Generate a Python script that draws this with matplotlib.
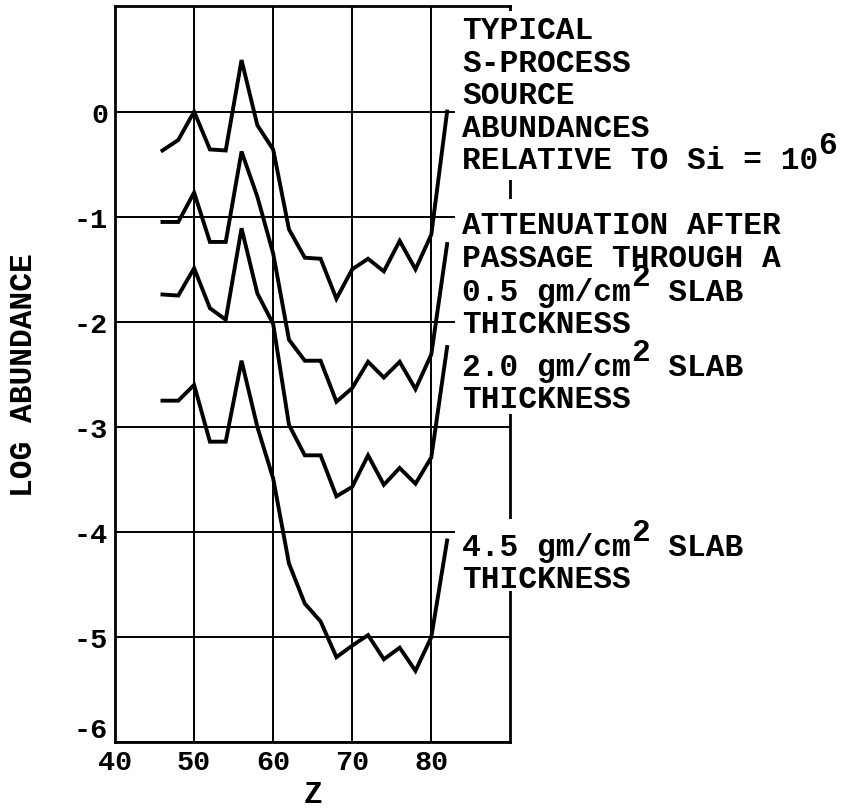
import numpy as np
import matplotlib
matplotlib.use('Agg')
import matplotlib.pyplot as plt
import matplotlib.transforms as mtransforms
from matplotlib.patches import Rectangle

# atomic number Z and log abundance (Si = 10^6) for each curve
z = [46, 48, 50, 52, 54, 56, 58, 60, 62, 64, 66, 68, 70, 72, 74, 76, 78, 80, 82]
source = [-0.37, -0.27, 0.0, -0.36, -0.37, 0.49, -0.13, -0.36, -1.12, -1.39,
          -1.40, -1.78, -1.50, -1.40, -1.52, -1.23, -1.50, -1.17, 0.0]
slab_05 = [-1.05, -1.05, -0.77, -1.24, -1.24, -0.38, -0.81, -1.35, -2.17, -2.37,
           -2.37, -2.76, -2.63, -2.38, -2.53, -2.38, -2.64, -2.31, -1.26]
slab_20 = [-1.74, -1.75, -1.49, -1.87, -1.98, -1.11, -1.73, -2.02, -2.98, -3.27,
           -3.27, -3.66, -3.57, -3.27, -3.55, -3.39, -3.54, -3.29, -2.24]
slab_45 = [-2.75, -2.75, -2.60, -3.14, -3.14, -2.37, -3.00, -3.49, -4.30, -4.68,
           -4.85, -5.19, -5.08, -4.98, -5.21, -5.10, -5.32, -5.00, -4.08]

xticks = [40, 50, 60, 70, 80]
yticks = [-6, -5, -4, -3, -2, -1, 0]
ytick_labels = ['-6', '-5', '-4', '-3', '-2', '-1', '0']

# curve labels, one list of lines per curve; superscripts kept apart
# as (line, char index, text) so they can be raised like a typewriter would
labels = [
    ['TYPICAL', 'S-PROCESS', 'SOURCE', 'ABUNDANCES', 'RELATIVE TO Si = 10'],
    ['ATTENUATION AFTER', 'PASSAGE THROUGH A', '0.5 gm/cm  SLAB', 'THICKNESS'],
    ['2.0 gm/cm  SLAB', 'THICKNESS'],
    ['4.5 gm/cm  SLAB', 'THICKNESS'],
]
supers = [[(4, 19, '6')], [(2, 9, '2')], [(0, 9, '2')], [(0, 9, '2')]]


if __name__ == "__main__":

    font = 'Liberation Mono'
    fs = 22.5
    plt.rcParams['font.family'] = [font, 'DejaVu Sans Mono']
    plt.rcParams['font.weight'] = 'bold'

    fig = plt.figure(figsize=(8.44, 8.12), dpi=100)
    ax = fig.add_axes([0.1363, 0.0846, 0.4684, 0.9062])

    for series in (source, slab_05, slab_20, slab_45):
        ax.plot(z, series, color='black', lw=2.8, solid_joinstyle='miter', zorder=3)

    ax.set_xlim(40, 90)
    ax.set_ylim(-6, 1)
    ax.set_xticks(xticks)
    ax.set_yticks(yticks)
    ax.set_yticklabels(ytick_labels)
    ax.tick_params(length=0, pad=5, labelsize=20.5)
    ax.grid(True, color='black', lw=1.4, zorder=1)
    ax.set_axisbelow(True)
    for sp in ax.spines.values():
        sp.set_linewidth(2.0)
        sp.set_zorder(2.5)

    # the -6 label sits a bit above the bottom line
    for lab in ax.get_yticklabels():
        if lab.get_text() == '-6':
            off = mtransforms.ScaledTranslation(0, 0.15, fig.dpi_scale_trans)
            lab.set_transform(lab.get_transform() + off)

    ax.set_xlabel('Z', fontsize=fs, fontweight='bold', labelpad=3)
    ax.set_ylabel('LOG ABUNDANCE', fontsize=fs, fontweight='bold', labelpad=25)

    # white panels behind the labels (grid and frame stop at the text)
    def frac(ypix):
        return (743.3 - ypix) / 735.8
    x0 = (455 - 113.3) / 397.1
    for top, bot in [(12, 181), (200, 415), (520, 592)]:
        ax.add_patch(Rectangle((x0, frac(bot)), 1.0, frac(top) - frac(bot),
                               transform=ax.transAxes, clip_on=False,
                               facecolor='white', edgecolor='none', zorder=4))

    # label text, line centres in pixels from the top
    rows = [[28, 61, 93, 126, 158], [223, 256, 290, 322], [365, 397], [545, 577]]
    xt = (462 - 113.3) / 397.1
    adv = 0.6 * fs / 72.0  # monospace advance, inches
    for lines, ys, sup in zip(labels, rows, supers):
        for txt, yp in zip(lines, ys):
            ax.text(xt, frac(yp), txt, transform=ax.transAxes, ha='left',
                    va='center_baseline', fontsize=fs, fontweight='bold',
                    clip_on=False, zorder=5)
        for li, ci, s in sup:
            off = mtransforms.ScaledTranslation(ci * adv, 0.15, fig.dpi_scale_trans)
            ax.text(xt, frac(ys[li]), s, transform=ax.transAxes + off, ha='left',
                    va='center_baseline', fontsize=fs, fontweight='bold',
                    clip_on=False, zorder=5)

    plt.savefig('out.png', dpi=100)
